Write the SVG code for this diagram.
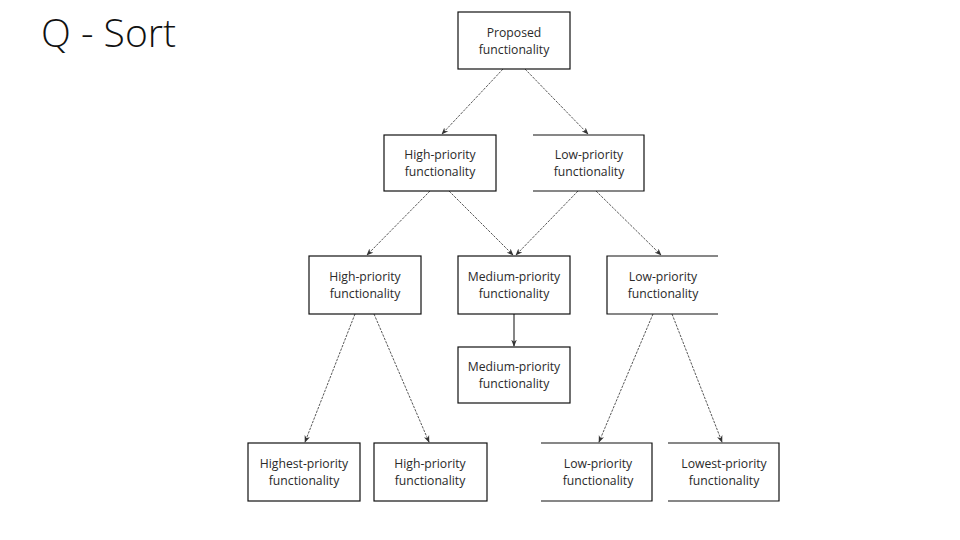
<svg xmlns="http://www.w3.org/2000/svg" width="960" height="540" viewBox="0 0 960 540">
<defs>
<marker id="ah" viewBox="0 0 10 10" refX="9" refY="5" markerWidth="7" markerHeight="7" orient="auto" markerUnits="userSpaceOnUse">
<path d="M0,1 L10,5 L0,9 L3,5 Z" fill="#333"/>
</marker>
<style>
.box{fill:#fff;stroke:#111;stroke-width:1.2}
.edge{fill:none;stroke:#111;stroke-width:1.2}
.t{font-family:"Open Sans","Noto Sans",sans-serif;font-size:12.2px;fill:#2a2a2a;text-anchor:middle}
.c{fill:none;stroke:#444;stroke-width:0.9;stroke-dasharray:2.5 1.2;marker-end:url(#ah)}
.s{fill:none;stroke:#222;stroke-width:1.1;marker-end:url(#ah)}
.title{font-family:"Open Sans","Lato","Liberation Sans",sans-serif;font-weight:300;font-size:39px;fill:#111}
</style>
</defs>
<rect width="960" height="540" fill="#fff"/>
<text class="title" x="41" y="47">Q - Sort</text>
<g id="connectors">
<line class="c" x1="503" y1="69" x2="442" y2="134"/>
<line class="c" x1="525" y1="69" x2="588" y2="134"/>
<line class="c" x1="430" y1="191" x2="367" y2="255"/>
<line class="c" x1="449" y1="191" x2="513" y2="255"/>
<line class="c" x1="578" y1="191" x2="516" y2="255"/>
<line class="c" x1="596" y1="191" x2="661" y2="255"/>
<line class="s" x1="514" y1="314" x2="514" y2="346"/>
<line class="c" x1="355" y1="314" x2="305" y2="442"/>
<line class="c" x1="374" y1="314" x2="429" y2="442"/>
<line class="c" x1="653" y1="314" x2="599" y2="442"/>
<line class="c" x1="672" y1="314" x2="722" y2="442"/>
</g>
<g id="proposed">
<rect class="box" x="458" y="12" width="112" height="57"/>
<text class="t" x="514" y="36.8">Proposed</text>
<text class="t" x="514" y="53.6">functionality</text>
</g>
<g id="high1">
<rect class="box" x="384" y="135" width="112" height="56"/>
<text class="t" x="440" y="158.8">High-priority</text>
<text class="t" x="440" y="175.6">functionality</text>
</g>
<g id="low1">
<path class="edge" d="M533,135 H644 V191 H533"/>
<text class="t" x="589" y="158.8">Low-priority</text>
<text class="t" x="589" y="175.6">functionality</text>
</g>
<g id="high2">
<rect class="box" x="309" y="256" width="112" height="58"/>
<text class="t" x="365" y="280.8">High-priority</text>
<text class="t" x="365" y="297.6">functionality</text>
</g>
<g id="medium2">
<rect class="box" x="458" y="256" width="112" height="58"/>
<text class="t" x="514" y="280.8">Medium-priority</text>
<text class="t" x="514" y="297.6">functionality</text>
</g>
<g id="low2">
<path class="edge" d="M718,256 H607 V314 H718"/>
<text class="t" x="663" y="280.8">Low-priority</text>
<text class="t" x="663" y="297.6">functionality</text>
</g>
<g id="medium3">
<rect class="box" x="458" y="347" width="112" height="56"/>
<text class="t" x="514" y="370.8">Medium-priority</text>
<text class="t" x="514" y="387.6">functionality</text>
</g>
<g id="highest">
<rect class="box" x="248" y="443" width="112" height="58"/>
<text class="t" x="304" y="467.8">Highest-priority</text>
<text class="t" x="304" y="484.6">functionality</text>
</g>
<g id="high3">
<rect class="box" x="374" y="443" width="113" height="58"/>
<text class="t" x="430" y="467.8">High-priority</text>
<text class="t" x="430" y="484.6">functionality</text>
</g>
<g id="low3">
<path class="edge" d="M541,443 H652 V501 H541"/>
<text class="t" x="598" y="467.8">Low-priority</text>
<text class="t" x="598" y="484.6">functionality</text>
</g>
<g id="lowest">
<path class="edge" d="M668,443 H779 V501 H668"/>
<text class="t" x="724" y="467.8">Lowest-priority</text>
<text class="t" x="724" y="484.6">functionality</text>
</g>
</svg>
